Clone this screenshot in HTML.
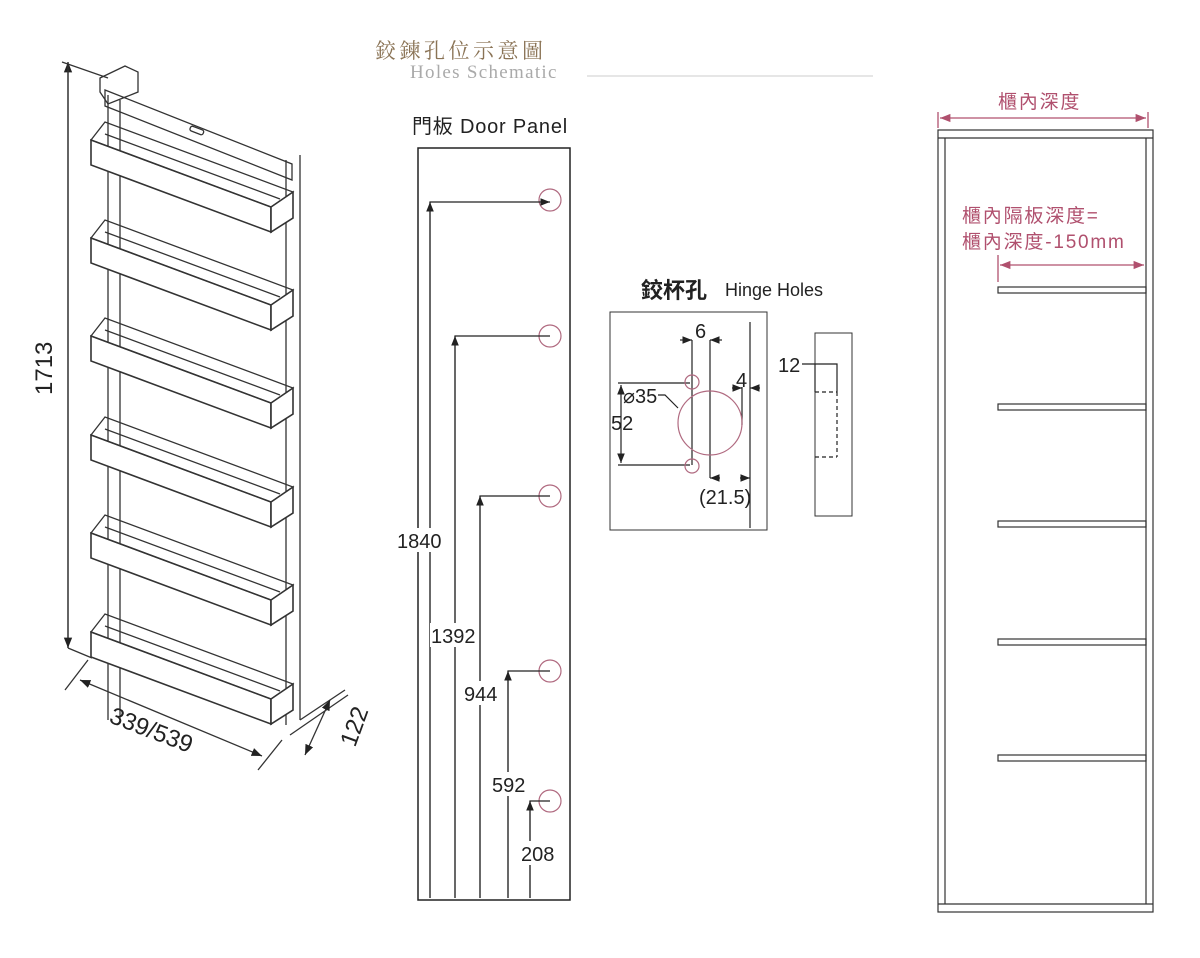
<!DOCTYPE html>
<html><head><meta charset="utf-8"><style>
body{margin:0;background:#fff}
svg{display:block;font-family:"Liberation Sans","Noto Sans CJK TC",sans-serif}
</style></head><body>
<svg width="1200" height="958" viewBox="0 0 1200 958" xmlns="http://www.w3.org/2000/svg">
<defs>
<marker id="a" viewBox="0 0 10 10" refX="10" refY="5" markerWidth="8" markerHeight="8" orient="auto-start-reverse"><path d="M0,1L10,5L0,9z" fill="#222"/></marker>
<marker id="p" viewBox="0 0 10 10" refX="10" refY="5" markerWidth="8" markerHeight="8" orient="auto-start-reverse"><path d="M0,1L10,5L0,9z" fill="#b0506e"/></marker>
</defs>
<!-- title -->
<text x="375" y="58" font-size="21" fill="#8a7355" font-family="Noto Serif CJK SC,serif" letter-spacing="3.5">鉸鍊孔位示意圖</text>
<text x="410" y="78" font-size="19" fill="#aaa" font-family="Liberation Serif,serif" letter-spacing="1.3">Holes Schematic</text>
<line x1="587" y1="76" x2="873" y2="76" stroke="#ccc"/>

<!-- product drawing -->
<g stroke="#333" fill="none" stroke-width="1.3">
<line x1="62" y1="62" x2="108" y2="78"/>
<line x1="68" y1="648" x2="92" y2="658"/>
<line x1="68" y1="648" x2="68" y2="62" marker-end="url(#a)"/>
<line x1="68" y1="62" x2="68" y2="648" marker-end="url(#a)"/>
<line x1="108" y1="95" x2="108" y2="720"/><line x1="120" y1="100" x2="120" y2="720"/>
<line x1="286" y1="160" x2="286" y2="725"/><line x1="300" y1="155" x2="300" y2="720"/>
<polygon points="100,78 125,66 138,72 138,92 108,104 100,92"/>
<polygon points="105,90 105,106 292,180 292,164"/>
<rect x="190" y="128" width="14" height="5" rx="2" transform="rotate(21 197 130)"/>
<g id="b">
<polygon points="91,140 91,165 271,232 271,207" fill="#fff" stroke-width="1.6"/>
<polygon points="91,140 105,122 293,192 271,207"/>
<polygon points="271,207 293,192 293,218 271,232" fill="#fff" stroke-width="1.6"/>
<line x1="105" y1="134" x2="280" y2="199"/>
</g>
<use href="#b" y="98"/><use href="#b" y="196"/><use href="#b" y="295"/><use href="#b" y="393"/><use href="#b" y="492"/>
<line x1="65" y1="690" x2="88" y2="660"/>
<line x1="258" y1="770" x2="282" y2="740"/>
<line x1="80" y1="680" x2="262" y2="756" marker-end="url(#a)" marker-start="url(#a)"/>
<line x1="290" y1="735" x2="348" y2="695"/><line x1="300" y1="720" x2="345" y2="690"/>
<line x1="305" y1="755" x2="330" y2="700" marker-end="url(#a)" marker-start="url(#a)"/>
</g>
<text transform="translate(52,395) rotate(-90)" font-size="24" fill="#222">1713</text>
<text transform="translate(108,722) rotate(21)" font-size="24" fill="#222">339/539</text>
<text transform="translate(355,748) rotate(-70)" font-size="24" fill="#222">122</text>

<!-- door panel -->
<text x="412" y="133" font-size="20" fill="#222" letter-spacing="0.8">門板 Door Panel</text>
<rect x="418" y="148" width="152" height="752" fill="none" stroke="#222" stroke-width="1.5"/>
<g fill="none" stroke="#b06a80" stroke-width="1.2">
<circle cx="550" cy="200" r="11"/><circle cx="550" cy="336" r="11"/><circle cx="550" cy="496" r="11"/><circle cx="550" cy="671" r="11"/><circle cx="550" cy="801" r="11"/>
</g>
<g stroke="#222" stroke-width="1.2" fill="none">
<polyline points="550,202 430,202 430,898" marker-start="url(#a)"/>
<line x1="430" y1="898" x2="430" y2="202" marker-end="url(#a)"/>
<polyline points="550,336 455,336 455,898"/><line x1="455" y1="898" x2="455" y2="336" marker-end="url(#a)"/>
<polyline points="550,496 480,496 480,898"/><line x1="480" y1="898" x2="480" y2="496" marker-end="url(#a)"/>
<polyline points="550,671 508,671 508,898"/><line x1="508" y1="898" x2="508" y2="671" marker-end="url(#a)"/>
<polyline points="550,801 530,801 530,898"/><line x1="530" y1="898" x2="530" y2="801" marker-end="url(#a)"/>
</g>
<g font-size="20" fill="#222">
<rect x="396" y="528" width="48" height="24" fill="#fff"/><text x="397" y="548">1840</text>
<rect x="430" y="623" width="48" height="24" fill="#fff"/><text x="431" y="643">1392</text>
<rect x="463" y="681" width="38" height="24" fill="#fff"/><text x="464" y="701">944</text>
<rect x="491" y="772" width="38" height="24" fill="#fff"/><text x="492" y="792">592</text>
<rect x="520" y="841" width="38" height="24" fill="#fff"/><text x="521" y="861">208</text>
</g>

<!-- hinge holes -->
<text x="641" y="298" font-size="22" font-weight="bold" fill="#222">鉸杯孔</text>
<text x="725" y="296" font-size="18" fill="#222">Hinge Holes</text>
<rect x="610" y="312" width="157" height="218" fill="none" stroke="#333"/>
<g stroke="#222" stroke-width="1.2" fill="none">
<line x1="692" y1="340" x2="692" y2="465"/>
<line x1="710" y1="340" x2="710" y2="478"/>
<line x1="750" y1="322" x2="750" y2="528"/>
<line x1="742" y1="387" x2="742" y2="425"/>
<line x1="680" y1="340" x2="692" y2="340" marker-end="url(#a)"/>
<line x1="722" y1="340" x2="710" y2="340" marker-end="url(#a)"/>
<line x1="732" y1="388" x2="742" y2="388" marker-end="url(#a)"/>
<line x1="760" y1="388" x2="750" y2="388" marker-end="url(#a)"/>
<line x1="720" y1="478" x2="710" y2="478" marker-end="url(#a)"/>
<line x1="740" y1="478" x2="750" y2="478" marker-end="url(#a)"/>
<line x1="618" y1="383" x2="690" y2="383"/>
<line x1="618" y1="465" x2="690" y2="465"/>
<line x1="621" y1="385" x2="621" y2="463" marker-end="url(#a)" marker-start="url(#a)"/>
<polyline points="658,395 665,395 678,408"/>
</g>
<g fill="none" stroke="#b06a80" stroke-width="1.2">
<circle cx="710" cy="423" r="32"/><circle cx="692" cy="382" r="7"/><circle cx="692" cy="466" r="7"/>
</g>
<g font-size="20" fill="#222">
<text x="695" y="338">6</text><text x="736" y="387">4</text>
<text x="623" y="403">⌀35</text><text x="611" y="430">52</text><text x="699" y="504">(21.5)</text>
<text x="778" y="372">12</text>
</g>
<rect x="815" y="333" width="37" height="183" fill="none" stroke="#333"/>
<g stroke="#222" stroke-width="1.2" fill="none">
<polyline points="802,364 837,364 837,392"/>
<line x1="815" y1="364" x2="815" y2="392"/>
<line x1="815" y1="392" x2="837" y2="392" stroke-dasharray="4,3"/>
<line x1="837" y1="392" x2="837" y2="457" stroke-dasharray="4,3"/>
<line x1="815" y1="457" x2="837" y2="457" stroke-dasharray="4,3"/>
</g>

<!-- cabinet -->
<g stroke="#333" stroke-width="1.2" fill="none">
<rect x="938" y="130" width="215" height="782"/>
<line x1="938" y1="138" x2="1153" y2="138"/>
<line x1="938" y1="904" x2="1153" y2="904"/>
<line x1="945" y1="138" x2="945" y2="904"/>
<line x1="1146" y1="138" x2="1146" y2="904"/>
<rect x="998" y="287" width="148" height="6"/>
<rect x="998" y="404" width="148" height="6"/>
<rect x="998" y="521" width="148" height="6"/>
<rect x="998" y="639" width="148" height="6"/>
<rect x="998" y="755" width="148" height="6"/>
</g>
<g stroke="#b0506e" stroke-width="1.3">
<line x1="938" y1="112" x2="938" y2="128"/><line x1="1148" y1="112" x2="1148" y2="128"/>
<line x1="940" y1="118" x2="1146" y2="118" marker-end="url(#p)" marker-start="url(#p)"/>
<line x1="998" y1="255" x2="998" y2="282"/>
<line x1="1000" y1="265" x2="1144" y2="265" marker-end="url(#p)" marker-start="url(#p)"/>
</g>
<g fill="#b0506e" font-size="19" letter-spacing="1.8">
<text x="998" y="108">櫃內深度</text>
<text x="962" y="222">櫃內隔板深度=</text>
<text x="962" y="248">櫃內深度-150mm</text>
</g>
</svg>
</body></html>
